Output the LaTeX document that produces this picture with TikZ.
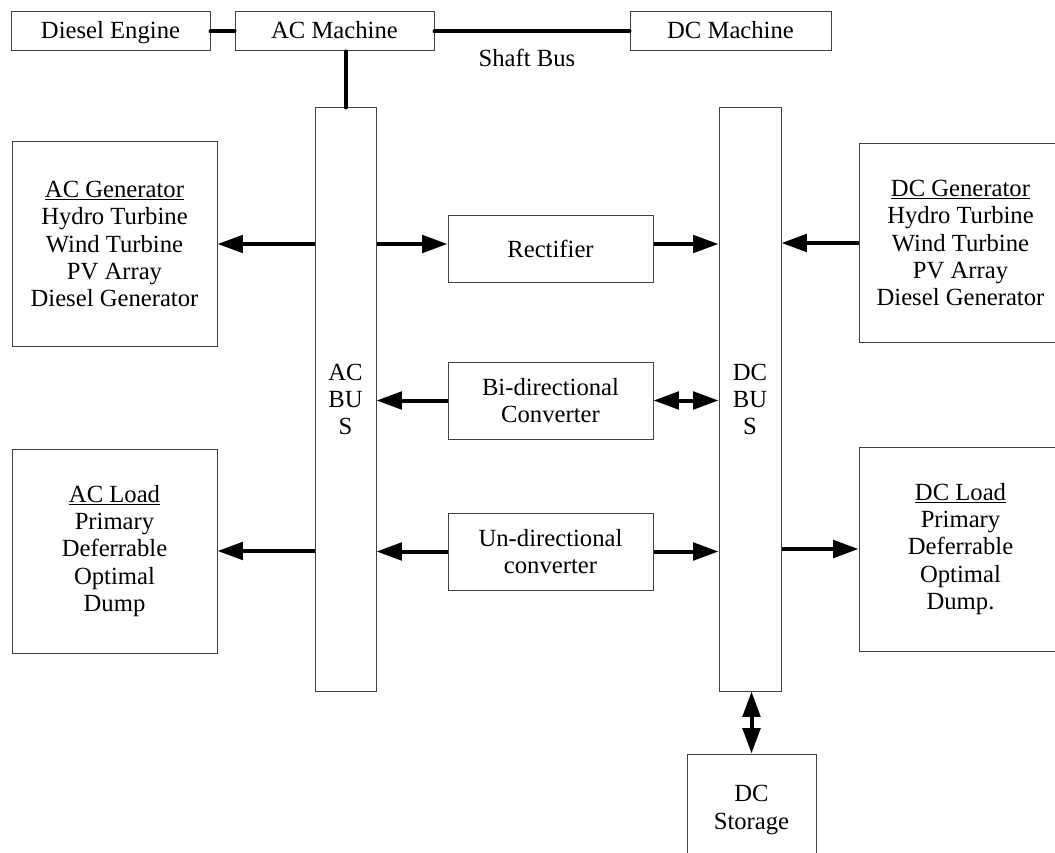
\documentclass[tikz,border=0pt]{standalone}
\usepackage{fontspec}
\setmainfont{Liberation Serif}
\usetikzlibrary{arrows.meta}

\begin{document}
\begin{tikzpicture}[x=0.75pt,y=-0.75pt,
        box/.style={draw=black!75, line width=0.75pt, align=center, inner sep=0pt,
            font=\fontsize{18.5pt}{20.5pt}\selectfont},
        machine/.style={box, minimum height=29.25pt, text height=13pt, text depth=2pt},
        link/.style={line width=3pt, line cap=round},
        flow/.style={line width=3pt, -{Triangle[length=19pt,width=13pt]}},
        both/.style={line width=3pt, {Triangle[length=19pt,width=13pt]}-{Triangle[length=19pt,width=13pt]}}]
        \clip (0,0) rectangle (1055,852);

        \node[machine, minimum width=149.25pt] (diesel) at (110.5, 31.5) {Diesel Engine};
        \node[machine, minimum width=149.25pt] (acm) at (334.5, 31.5) {AC Machine};
        \node[machine, minimum width=150.75pt] (dcm) at (730.5, 31.5) {DC Machine};
        \node[font=\fontsize{18.5pt}{20.5pt}\selectfont] (shaft) at (527, 58) {Shaft Bus};

        \node[box, minimum width=45.75pt, minimum height=437.25pt] (acbus) at (345.5, 399.5) {AC\\BU\\S};
        \node[box, minimum width=46.5pt, minimum height=437.25pt] (dcbus) at (750, 399.5) {DC\\BU\\S};

        \node[box, minimum width=153.75pt, minimum height=153pt] (acgen) at (114.5, 244)
            {\underline{AC Generator}\\Hydro Turbine\\Wind Turbine\\PV Array\\Diesel Generator};
        \node[box, minimum width=152.25pt, minimum height=148.5pt] (dcgen) at (960.5, 243)
            {\underline{DC Generator}\\Hydro Turbine\\Wind Turbine\\PV Array\\Diesel Generator};
        \node[box, minimum width=153.75pt, minimum height=153pt] (acload) at (114.5, 551)
            {\underline{AC Load}\\Primary\\Deferrable\\Optimal\\Dump};
        \node[box, minimum width=152.25pt, minimum height=153pt] (dcload) at (960.5, 549)
            {\underline{DC Load}\\Primary\\Deferrable\\Optimal\\Dump.};

        \node[box, minimum width=153.75pt, minimum height=49.5pt] (rect) at (550.5, 249) {Rectifier};
        \node[box, minimum width=153.75pt, minimum height=57.75pt] (bidir) at (550.5, 400.5) {Bi-directional\\Converter};
        \node[box, minimum width=153.75pt, minimum height=57.75pt] (undir) at (550.5, 551.5) {Un-directional\\converter};
        \node[box, minimum width=96.75pt, minimum height=84pt] (storage) at (751.5, 810) {DC\\Storage};

        % shaft connections
        \draw[link] (diesel) -- (acm);
        \draw[link] (acm) -- (dcm);
        \draw[link] (acm.south -| acbus) -- (acbus.north);

        % power flow
        \draw[flow] (acbus.west |- acgen) -- (acgen.east);
        \draw[flow] (acbus.east |- acgen) -- (rect.west |- acgen);
        \draw[flow] (rect.east |- acgen) -- (dcbus.west |- acgen);
        \draw[flow] (dcgen.west) -- (dcbus.east |- dcgen);
        \draw[flow] (bidir.west) -- (acbus.east |- bidir);
        \draw[both] (bidir.east) -- (dcbus.west |- bidir);
        \draw[flow] (acbus.west |- acload) -- (acload.east);
        \draw[flow] (undir.west) -- (acbus.east |- undir);
        \draw[flow] (undir.east) -- (dcbus.west |- undir);
        \draw[flow] (dcbus.east |- dcload) -- (dcload.west);
        \draw[both] (dcbus.south -| storage) -- (storage.north);
\end{tikzpicture}
\end{document}
